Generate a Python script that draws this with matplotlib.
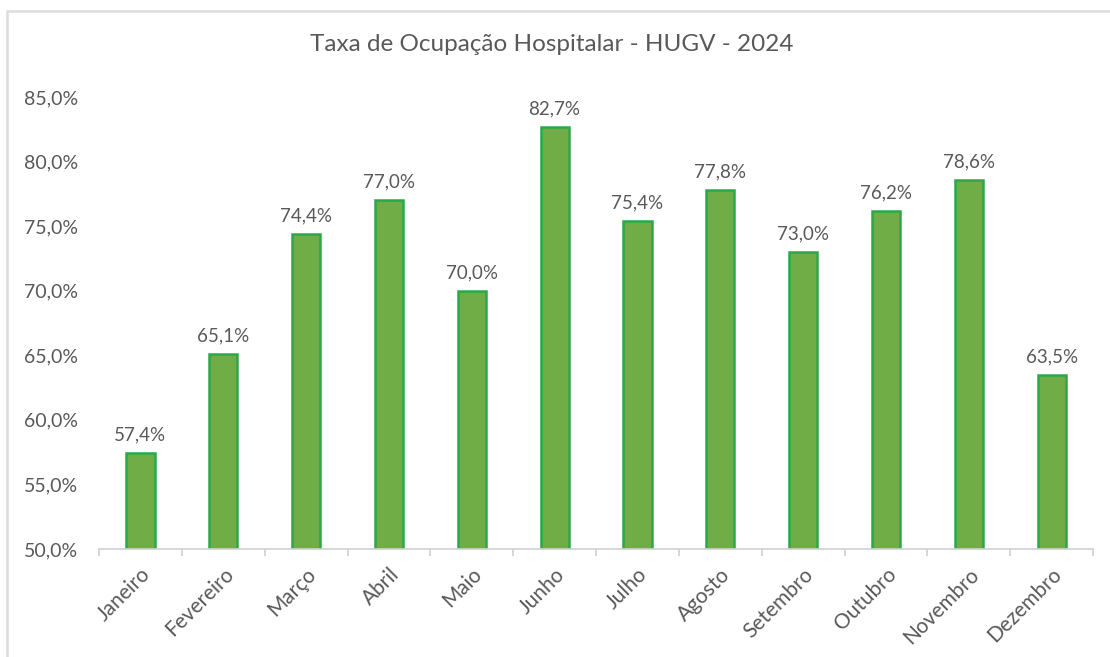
import matplotlib.pyplot as plt
from matplotlib.patches import Rectangle

plt.rcParams['font.family'] = ['Lato', 'DejaVu Sans']

meses = ['Janeiro', 'Fevereiro', 'Março', 'Abril', 'Maio', 'Junho',
         'Julho', 'Agosto', 'Setembro', 'Outubro', 'Novembro', 'Dezembro']
taxa = [57.4, 65.1, 74.4, 77.0, 70.0, 82.7, 75.4, 77.8, 73.0, 76.2, 78.6, 63.5]
y_ticks = [50, 55, 60, 65, 70, 75, 80, 85]

cinza = '#595959'

fig = plt.figure(figsize=(11.1, 6.57), dpi=100)
ax = fig.add_axes([0.0892, 0.1644, 0.8955, 0.688])

x = range(len(meses))
barras = ax.bar(x, taxa, width=0.34, color='#70AD47', edgecolor='#2BA84A',
                linewidth=1.8, zorder=2)

for b, v in zip(barras, taxa):
    ax.annotate(f'{v:.1f}%'.replace('.', ','),
                (b.get_x() + b.get_width() / 2, v),
                xytext=(0, 7), textcoords='offset points',
                ha='center', va='bottom', fontsize=13.5, color=cinza)

ax.set_xlim(-0.5, len(meses) - 0.5)
ax.set_ylim(50, 85)
ax.set_yticks(y_ticks)
ax.set_yticklabels([f'{t:.1f}%'.replace('.', ',') for t in y_ticks])

ax.set_xticks(list(x))
ax.set_xticklabels(meses, rotation=45, ha='right', rotation_mode='anchor')
ax.tick_params(axis='x', length=0, pad=11, labelsize=15, labelcolor=cinza)
ax.tick_params(axis='y', length=0, pad=15, labelsize=14, labelcolor=cinza)

# marcas entre categorias
ax.set_xticks([i - 0.5 for i in range(len(meses) + 1)], minor=True)
ax.tick_params(axis='x', which='minor', length=5, color='#d0d0d0', width=1.2)

for s in ['top', 'right', 'left']:
    ax.spines[s].set_visible(False)
ax.spines['bottom'].set_color('#d0d0d0')
ax.spines['bottom'].set_linewidth(1.2)

fig.text(0.497, 0.933, 'Taxa de Ocupação Hospitalar - HUGV - 2024',
         ha='center', va='center', fontsize=17.5, color=cinza)

# moldura do gráfico
fig.add_artist(Rectangle((0.0065, -0.05), 1.2, 1.033, transform=fig.transFigure,
                         fill=False, edgecolor='#dcdcdc', linewidth=1.8))

fig.savefig('out.png', dpi=100)
